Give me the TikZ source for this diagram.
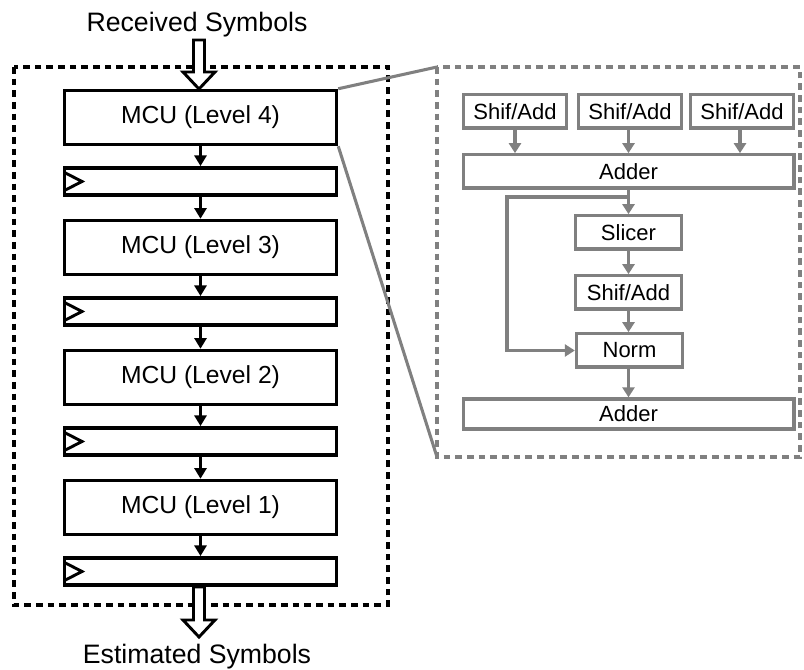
\documentclass[tikz,border=0pt]{standalone}
\usepackage{fontspec}
\setmainfont{Liberation Sans}
\usetikzlibrary{arrows.meta}
\definecolor{midgray}{RGB}{128,128,128}

\begin{document}
\begin{tikzpicture}[x=0.75pt,y=-0.75pt,
  blk/.style={draw=black, line width=2.6pt, fill=white, inner sep=0pt,
    minimum width=204pt, font=\fontsize{18.5}{20}\selectfont},
  mcu/.style={blk, minimum height=40.5pt},
  reg/.style={blk, minimum height=20.5pt},
  barrow/.style={line width=2.4pt, -{Triangle[length=8pt,width=9pt]}},
  gbox/.style={draw=midgray, line width=2.5pt, fill=white, inner sep=0pt,
    minimum height=25pt, font=\fontsize{16.5}{18}\selectfont},
  garrow/.style={draw=midgray, line width=2.4pt, -{Triangle[length=7.5pt,width=9pt]}},
  hollow/.style={draw=black, line width=2.2pt, fill=white, line join=miter},
  lbl/.style={font=\fontsize{20}{22}\selectfont, inner sep=0pt}]
\useasboundingbox (0,0) rectangle (804,670);

% outer dashed frame of the MCU chain
\draw[line width=2.8pt, dash pattern=on 5pt off 3.75pt] (14,67) rectangle (388,605);

% MCU levels and registers
\node[mcu] (m4) at (200.5,117.5) {MCU (Level 4)};
\node[reg] (r4) at (200.5,181.5) {};
\node[mcu] (m3) at (200.5,247.5) {MCU (Level 3)};
\node[reg] (r3) at (200.5,311.5) {};
\node[mcu] (m2) at (200.5,377.5) {MCU (Level 2)};
\node[reg] (r2) at (200.5,441.5) {};
\node[mcu] (m1) at (200.5,507.5) {MCU (Level 1)};
\node[reg] (r1) at (200.5,571.5) {};

% clock marks on the registers
\foreach \cy in {181.5,311.5,441.5,571.5}
  \draw[line width=2.2pt, line join=miter] (64.5,\cy-9) -- (82,\cy) -- (64.5,\cy+9);

\draw[barrow] (m4) -- (r4);
\draw[barrow] (r4) -- (m3);
\draw[barrow] (m3) -- (r3);
\draw[barrow] (r3) -- (m2);
\draw[barrow] (m2) -- (r2);
\draw[barrow] (r2) -- (m1);
\draw[barrow] (m1) -- (r1);

% input and output
\node[lbl, anchor=base] (rx) at (197,32) {Received Symbols};
\node[lbl, anchor=base] (est) at (197,663) {Estimated Symbols};
\draw[hollow] (193.5,40) -- (204.5,40) -- (204.5,72) -- (215,72) -- (199,89)
  -- (183,72) -- (193.5,72) -- cycle;
\draw[hollow] (193.5,587) -- (204.5,587) -- (204.5,620) -- (215,620) -- (199,637)
  -- (183,620) -- (193.5,620) -- cycle;

% detail frame of one MCU
\coordinate (dtl) at (437,67);
\coordinate (dbl) at (437,457);
\draw[midgray, line width=2.3pt, dash pattern=on 5pt off 3.75pt] (dtl) rectangle (800,457);
\draw[midgray, line width=2.3pt] (m4.north east) -- (dtl);
\draw[midgray, line width=2.3pt] (m4.south east) -- (dbl);

\node[gbox, minimum width=77pt] (s1) at (515,111.5) {Shif/Add};
\node[gbox, minimum width=77pt] (s2) at (630,111.5) {Shif/Add};
\node[gbox, minimum width=77pt] (s3) at (742,111.5) {Shif/Add};
\node[gbox, minimum width=248pt] (add1) at (628.5,171.5) {Adder};
\node[gbox, minimum width=79.5pt] (sl) at (628.5,232.5) {Slicer};
\node[gbox, minimum width=79.5pt] (sa) at (628.5,292.5) {Shif/Add};
\node[gbox, minimum width=79.5pt] (nm) at (629.5,350.5) {Norm};
\node[gbox, minimum width=248pt, minimum height=22.5pt] (add2) at (628.5,414) {Adder};

\coordinate (a1) at (515,0);
\coordinate (a2) at (628.5,0);
\coordinate (a3) at (740,0);
\draw[garrow] (s1.south) -- (s1.south |- add1.north);
\draw[garrow] (a2 |- s2.south) -- (a2 |- add1.north);
\draw[garrow] (a3 |- s3.south) -- (a3 |- add1.north);
\draw[garrow] (add1.south) -- (sl.north);
\draw[garrow] (sl) -- (sa);
\draw[garrow] (sa) -- (sa |- nm.north);
\draw[garrow] (sa |- nm.south) -- (sa |- add2.north);
\coordinate (fb) at (628.5,197);
\coordinate (fbl) at (507,197);
\draw[garrow] (fb) -- (fbl) |- (nm.west);
\end{tikzpicture}
\end{document}
